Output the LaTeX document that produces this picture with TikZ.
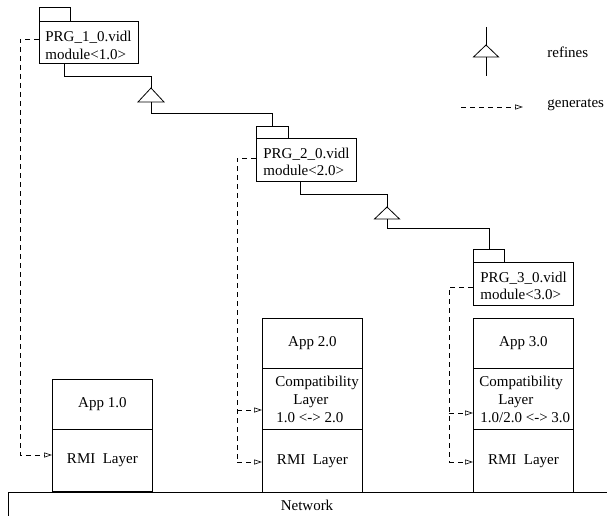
\documentclass[tikz,border=0pt]{standalone}
\usepackage{fontspec}
\setmainfont{Liberation Serif}
\usetikzlibrary{arrows.meta,calc}
\begin{document}
\begin{tikzpicture}[x=1pt,y=-1pt, line width=0.8pt,
 box/.style={draw, rectangle, inner sep=0pt, anchor=north west, font=\fontsize{15}{18}\selectfont},
 txt/.style={inner sep=0pt, anchor=base west, font=\fontsize{15}{18}\selectfont},
 ctxt/.style={inner sep=0pt, font=\fontsize{15}{18}\selectfont},
 gen/.style={dash pattern=on 5pt off 4pt, line width=0.6pt},
 genarrow/.style={gen, -{Triangle[open,length=8pt,width=5pt,line width=0.6pt]}}]
\useasboundingbox (0,0) rectangle (607,516);
\begin{scope}
\clip (0,0) rectangle (607,516);
\node[box, minimum width=610pt, minimum height=30pt] (net) at (8,492) {};
\end{scope}
\node[ctxt] (netl) at (307,505) {Network};

% PRG boxes
\node[box, minimum width=31pt, minimum height=14pt] (p1tab) at (39,7) {};
\node[box, minimum width=99pt, minimum height=42pt] (p1) at (39,21) {};
\node[txt] (p1l1) at (45,42) {PRG\_1\_0.vidl};
\node[txt] (p1l2) at (45,60) {module<1.0>};

\node[box, minimum width=32pt, minimum height=12pt] (p2tab) at (256,126) {};
\node[box, minimum width=100pt, minimum height=43pt] (p2) at (256,138) {};
\node[txt] (p2l1) at (263,158) {PRG\_2\_0.vidl};
\node[txt] (p2l2) at (263,175) {module<2.0>};

\node[box, minimum width=31pt, minimum height=13pt] (p3tab) at (473,249) {};
\node[box, minimum width=100pt, minimum height=43pt] (p3) at (473,262) {};
\node[txt] (p3l1) at (480,282) {PRG\_3\_0.vidl};
\node[txt] (p3l2) at (480,299) {module<3.0>};

% stacks
\node[box, minimum width=100pt, minimum height=50pt] (a1) at (52,379) {App 1.0};
\node[box, minimum width=100pt, minimum height=62pt] (r1) at (52,429) {RMI~~Layer};

\node[box, minimum width=100pt, minimum height=50pt] (a2) at (262,318) {App 2.0};
\node[box, minimum width=100pt, minimum height=61pt] (c2) at (262,368) {};
\node[box, minimum width=100pt, minimum height=63pt] (r2) at (262,429) {RMI~~Layer};
\node[txt] (c2l1) at (275,386) {Compatibility};
\node[txt] (c2l2) at (293,404) {Layer};
\node[txt] (c2l3) at (276,422) {1.0 <-> 2.0};

\node[box, minimum width=100pt, minimum height=50pt] (a3) at (473,318) {App 3.0};
\node[box, minimum width=100pt, minimum height=61pt] (c3) at (473,368) {};
\node[box, minimum width=100pt, minimum height=63pt] (r3) at (473,429) {RMI~~Layer};
\node[txt] (c3l1) at (479,386) {Compatibility};
\node[txt] (c3l2) at (498,404) {Layer};
\node[txt] (c3l3) at (480,422) {1.0/2.0 <-> 3.0};

% refine triangles
\coordinate (t1apex) at (151,88);
\coordinate (t1base) at (151,102);
\draw (t1apex) -- ++(-13,14) -- ++(26,0) -- cycle;
\coordinate (t2apex) at (387,207);
\coordinate (t2base) at (387,219);
\draw (t2apex) -- ++(-12.5,12) -- ++(25,0) -- cycle;

\draw ($(p1.south west)+(25,0)$) |- ($(t1apex)+(0,-12)$) -- (t1apex);
\draw (t1base) -- ++(0,11) -| (p2tab.north);
\draw ($(p2.south west)+(44,0)$) |- ($(t2apex)+(0,-13)$) -- (t2apex);
\draw (t2base) -- ++(0,9) -| (p3tab.north);

% generates
\coordinate (g1) at (20,455);
\draw[genarrow] ($(p1.north west)+(0,18)$) -| (g1) -- (r1.west |- g1);

\coordinate (g2a) at (237,410);
\coordinate (g2b) at (237,462);
\draw[gen] ($(p2.north west)+(0,20)$) -| (g2b);
\draw[genarrow] (g2a) -- (c2.west |- g2a);
\draw[genarrow] (g2b) -- (r2.west |- g2b);

\coordinate (g3a) at (449,413);
\coordinate (g3b) at (449,462);
\draw[gen] ($(p3.north west)+(0,25)$) -| (g3b);
\draw[genarrow] (g3a) -- (c3.west |- g3a);
\draw[genarrow] (g3b) -- (r3.west |- g3b);

% legend
\coordinate (lgtop) at (486,27);
\coordinate (lgapex) at (486,45);
\coordinate (lgbase) at (486,57);
\coordinate (lgbot) at (486,76);
\draw (lgtop) -- (lgapex);
\draw (lgapex) -- ++(-12.5,12) -- ++(25,0) -- cycle;
\draw (lgbase) -- (lgbot);
\node[txt] (lgref) at (547,58) {refines};
\coordinate (lgga) at (461,107);
\coordinate (lggb) at (523,107);
\draw[genarrow] (lgga) -- (lggb);
\node[txt] (lggen) at (547,107) {generates};
\end{tikzpicture}
\end{document}
